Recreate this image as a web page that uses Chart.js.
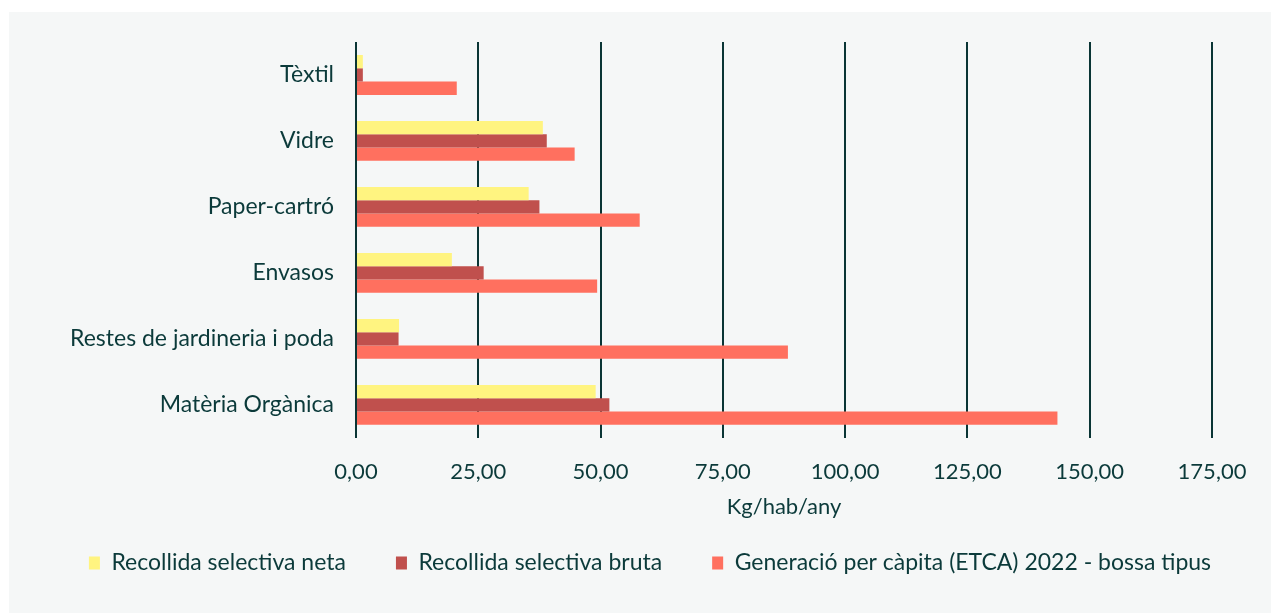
<!DOCTYPE html>
<html>
<head>
<meta charset="utf-8">
<script src="https://cdn.jsdelivr.net/npm/chart.js"></script>
<style>
  html, body { margin: 0; padding: 0; background: #ffffff; }
  #wrap { position: absolute; left: 9px; top: 12px; width: 1262px; height: 601px; background: #f5f7f7; }
</style>
</head>
<body>
<div id="wrap"><canvas id="myChart" width="1262" height="601"></canvas></div>
<script>
var categories = ["Tèxtil", "Vidre", "Paper-cartró", "Envasos", "Restes de jardineria i poda", "Matèria Orgànica"];
var netaValues = [1.4, 38.2, 35.3, 19.6, 8.8, 49.0];
var brutaValues = [1.4, 39.0, 37.5, 26.1, 8.7, 51.8];
var generacioValues = [20.6, 44.7, 58.0, 49.3, 88.3, 143.4];
var seriesNames = ["Recollida selectiva neta", "Recollida selectiva bruta", "Generació per càpita (ETCA) 2022 - bossa tipus"];
var xTickLabels = ["0,00", "25,00", "50,00", "75,00", "100,00", "125,00", "150,00", "175,00"];

var textColor = "#0b3a3a";
var gridColor = "#0a3535";

Chart.defaults.font.family = "Lato, 'Noto Sans', sans-serif";
Chart.defaults.color = textColor;

new Chart("myChart", {
  type: "bar",
  data: {
    labels: categories,
    datasets: [
      { label: seriesNames[0], data: netaValues, backgroundColor: "#fff480" },
      { label: seriesNames[1], data: brutaValues, backgroundColor: "#c0504d" },
      { label: seriesNames[2], data: generacioValues, backgroundColor: "#ff705f" }
    ]
  },
  options: {
    indexAxis: "y",
    responsive: false,
    animation: false,
    layout: { padding: { top: 30, right: 0, left: 20, bottom: 28.5 } },
    datasets: { bar: { categoryPercentage: 0.604, barPercentage: 1.0 } },
    plugins: {
      tooltip: { enabled: false },
      legend: {
        position: "bottom",
        labels: { boxWidth: 11, boxHeight: 13, padding: 50, font: { size: 23 }, color: textColor }
      }
    },
    scales: {
      x: {
        min: 0,
        max: 175,
        ticks: {
          stepSize: 25,
          padding: 21,
          font: { size: 22 },
          callback: function (value, index) { return xTickLabels[index]; }
        },
        grid: { color: gridColor, lineWidth: 2, drawTicks: false },
        border: { display: false },
        title: { display: true, text: "Kg/hab/any", font: { size: 22 }, padding: { top: -12.4, bottom: -18.7 } }
      },
      y: {
        grid: { display: false, drawTicks: true, tickLength: 8 },
        border: { display: false },
        ticks: { padding: 14, font: { size: 23 } },
        afterFit: function (scale) { scale.width = 327; }
      },
      // empty right-hand margin so the legend can use the full width
      yRight: {
        type: "linear",
        position: "right",
        grid: { display: false, drawTicks: false },
        border: { display: false },
        ticks: { display: false },
        afterFit: function (scale) { scale.width = 59; }
      }
    }
  }
});
</script>
</body>
</html>
